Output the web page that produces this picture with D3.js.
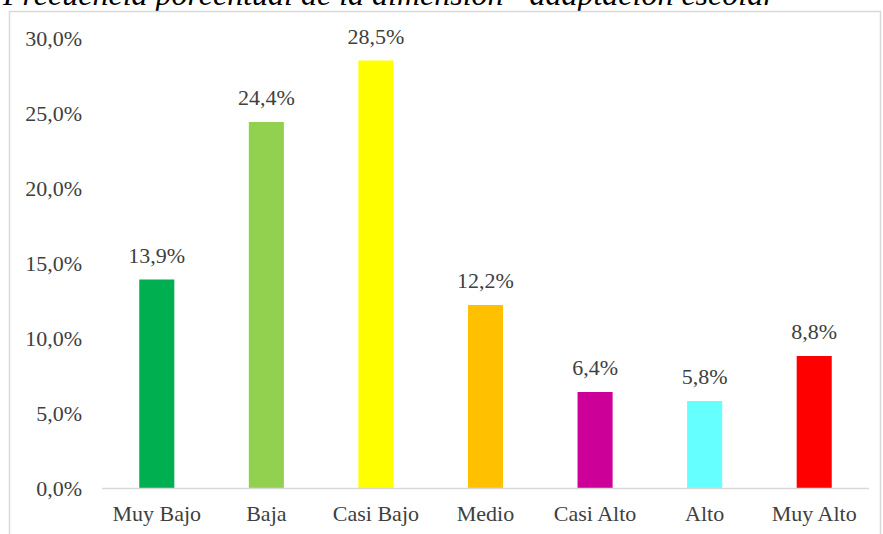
<!DOCTYPE html>
<html>
<head>
<meta charset="utf-8">
<script src="https://cdn.jsdelivr.net/npm/d3@7"></script>
<style>
  body { margin: 0; background: #fff; }
  svg { display: block; }
</style>
</head>
<body>
<div id="chart"></div>
<script>
// data
var categories = ["Muy Bajo", "Baja", "Casi Bajo", "Medio", "Casi Alto", "Alto", "Muy Alto"];
var values = [13.9, 24.4, 28.5, 12.2, 6.4, 5.8, 8.8];
var barColors = ["#00B050", "#92D050", "#FFFF00", "#FFC000", "#CC0099", "#66FFFF", "#FF0000"];
var yTicks = [0, 5, 10, 15, 20, 25, 30];
var title = "Frecuencia porcentual de la dimensión \u201cadaptación escolar\u201d";

var W = 883, H = 534;
var font = "'Liberation Serif', 'Times New Roman', serif";
var textColor = "#404040";

var svg = d3.select("#chart").append("svg")
    .attr("width", W)
    .attr("height", H);

// title, partly cut off at the top like in the source
svg.append("text")
    .attr("x", 3)
    .attr("y", 5)
    .style("font-family", font)
    .style("font-style", "italic")
    .style("font-size", "32px")
    .style("fill", "#000")
    .text(title);

// chart frame
svg.append("rect")
    .attr("x", 9.5)
    .attr("y", 11.5)
    .attr("width", 871)
    .attr("height", 540)
    .style("fill", "none")
    .style("stroke", "#d9d9d9")
    .style("stroke-width", 1.5);

var x = d3.scaleBand()
    .domain(categories)
    .range([102, 869])
    .paddingInner(0.68)
    .paddingOuter(0.34);

var y = d3.scaleLinear()
    .domain([0, 30])
    .range([488, 38]);

// y tick labels (no gridlines)
svg.selectAll(".ytick")
    .data(yTicks)
    .enter().append("text")
    .attr("class", "ytick")
    .attr("x", 82)
    .attr("y", function(d) { return y(d); })
    .attr("dy", "0.35em")
    .attr("text-anchor", "end")
    .style("font-family", font)
    .style("font-size", "22px")
    .style("fill", textColor)
    .text(function(d) { return d.toFixed(1).replace(".", ",") + "%"; });

// bars
svg.selectAll(".bar")
    .data(values)
    .enter().append("rect")
    .attr("class", "bar")
    .attr("x", function(d, i) { return x(categories[i]); })
    .attr("y", function(d) { return y(d); })
    .attr("width", x.bandwidth())
    .attr("height", function(d) { return y(0) - y(d); })
    .style("fill", function(d, i) { return barColors[i]; });

// baseline
svg.append("line")
    .attr("x1", 102)
    .attr("x2", 869)
    .attr("y1", y(0) + 0.5)
    .attr("y2", y(0) + 0.5)
    .style("stroke", "#d9d9d9")
    .style("stroke-width", 1.5);

// value labels
svg.selectAll(".val")
    .data(values)
    .enter().append("text")
    .attr("class", "val")
    .attr("x", function(d, i) { return x(categories[i]) + x.bandwidth() / 2; })
    .attr("y", function(d) { return y(d) - 17; })
    .attr("text-anchor", "middle")
    .style("font-family", font)
    .style("font-size", "22px")
    .style("fill", textColor)
    .text(function(d) { return d.toFixed(1).replace(".", ",") + "%"; });

// category labels
svg.selectAll(".cat")
    .data(categories)
    .enter().append("text")
    .attr("class", "cat")
    .attr("x", function(d) { return x(d) + x.bandwidth() / 2; })
    .attr("y", 521)
    .attr("text-anchor", "middle")
    .style("font-family", font)
    .style("font-size", "22px")
    .style("fill", textColor)
    .text(function(d) { return d; });
</script>
</body>
</html>
